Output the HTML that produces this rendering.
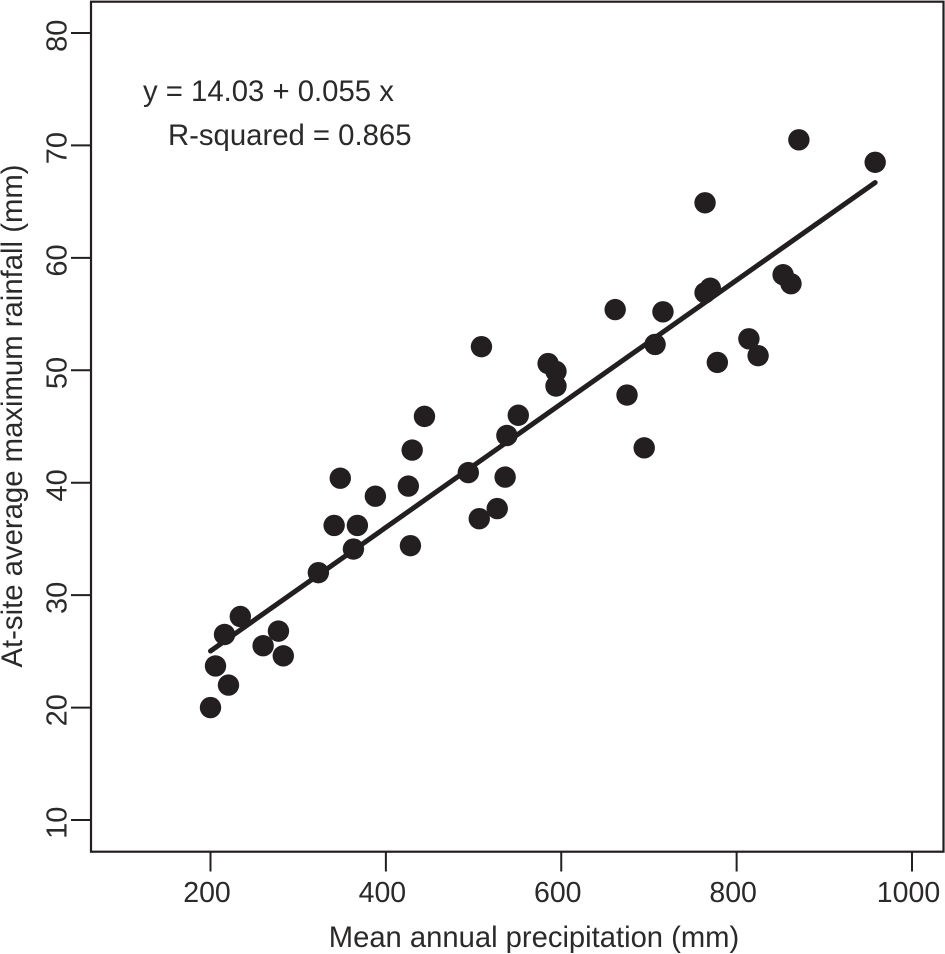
<!DOCTYPE html>
<html>
<head>
<meta charset="utf-8">
<title>Rainfall vs precipitation</title>
<style>
html,body{margin:0;padding:0;background:#fff;}
svg{display:block;}
text{font-family:"Liberation Sans",sans-serif;fill:#2b2a29;}
</style>
</head>
<body>
<svg id="chart" width="945" height="954" viewBox="0 0 945 954" xmlns="http://www.w3.org/2000/svg">
  <rect x="91" y="1.7" width="852.5" height="850" fill="#fff" stroke="#231f20" stroke-width="2.2"/>
  <text x="143" y="101" font-size="29.3">y = 14.03 + 0.055 x</text>
  <text x="168" y="145" font-size="29.3">R-squared = 0.865</text>
  <text x="534" y="947" font-size="29.2" text-anchor="middle">Mean annual precipitation (mm)</text>
  <text transform="translate(22,416) rotate(-90)" font-size="29.3" text-anchor="middle">At-site average maximum rainfall (mm)</text>
  <g id="axes"></g>
  <g id="marks"></g>
</svg>
<script>
const xTicks = [200, 400, 600, 800, 1000];
const yTicks = [10, 20, 30, 40, 50, 60, 70, 80];
const precipitation = [200, 205.7, 220.5, 216, 234, 260, 277.5, 283, 323, 341, 348, 363, 367.5, 388, 425.6, 428, 430, 444, 494, 506.5, 509, 527, 536, 538, 551, 585, 594, 594, 661.5, 675, 694.6, 707, 716, 764, 764, 770, 778, 814, 824.5, 853, 862, 871, 958];
const rainfall = [20, 23.7, 22, 26.5, 28.1, 25.5, 26.8, 24.6, 32, 36.2, 40.4, 34.1, 36.2, 38.8, 39.7, 34.4, 42.9, 45.9, 40.9, 36.8, 52.1, 37.7, 40.5, 44.2, 46, 50.6, 49.9, 48.6, 55.4, 47.8, 43.1, 52.3, 55.2, 56.9, 64.9, 57.3, 50.7, 52.8, 51.3, 58.5, 57.7, 70.5, 68.5];
const fitX = [200, 958];
const fitY = [25.03, 66.7];

const NS = 'http://www.w3.org/2000/svg';
const xScale = v => 210.5 + (v - 200) * (912 - 210.5) / 800;
const yScale = v => 820 - (v - 10) * (820 - 33) / 70;
const axes = document.getElementById('axes');
const marks = document.getElementById('marks');

function make(tag, attrs, parent) {
  const el = document.createElementNS(NS, tag);
  for (const k in attrs) el.setAttribute(k, attrs[k]);
  parent.appendChild(el);
  return el;
}

xTicks.forEach(t => {
  const x = xScale(t);
  const tick = make('line', {x1: x, x2: x, y1: 852, y2: 871.5, stroke: '#231f20', 'stroke-width': 2}, axes);
  
  
  const label = make('text', {x: x - 3.5, y: 902, 'font-size': 28.5, 'text-anchor': 'middle'}, axes);
  
  
  label.textContent = t;
});

yTicks.forEach(t => {
  const y = yScale(t);
  const tick = make('line', {x1: 71, x2: 91, y1: y, y2: y, stroke: '#231f20', 'stroke-width': 2}, axes);
  
  
  const label = make('text', {transform: 'translate(66.5,' + (y + 2.7) + ') rotate(-90)', 'font-size': 29, 'text-anchor': 'middle'}, axes);
  
  
  label.textContent = t;
});

const fit = make('line', {x1: xScale(fitX[0]), y1: yScale(fitY[0]), x2: xScale(fitX[1]), y2: yScale(fitY[1]), stroke: '#231f20', 'stroke-width': 5, 'stroke-linecap': 'round'}, marks);



precipitation.forEach((p, i) => {
  const dot = make('circle', {cx: xScale(p), cy: yScale(rainfall[i]), r: 10.7, fill: '#231f20'}, marks);
  
  
});
</script>
</body>
</html>
